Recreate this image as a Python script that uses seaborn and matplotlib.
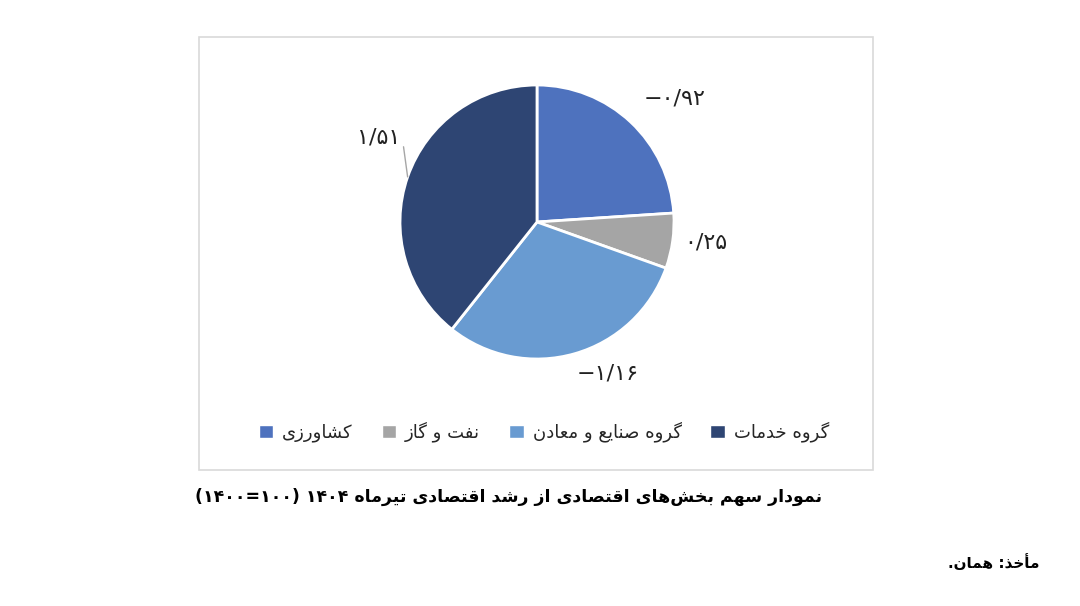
import numpy as np
import matplotlib
matplotlib.use("Agg")
import matplotlib.pyplot as plt
import seaborn as sns
from matplotlib.patches import Rectangle

# Data (share of each sector in growth, Tir 1404)
sectors = ["کشاورزی", "نفت و گاز", "گروه صنایع و معادن", "گروه خدمات"]
values = [-0.92, 0.25, -1.16, 1.51]
value_labels = ["\u2212۰/۹۲", "۰/۲۵", "\u2212۱/۱۶", "۱/۵۱"]
colors = ["#4E72BE", "#A5A5A5", "#699BD1", "#2E4573"]

caption = "نمودار سهم بخش‌های اقتصادی از رشد اقتصادی تیرماه"
caption_num = "(۱۴۰۰=۱۰۰) ۱۴۰۴ "
source = "مأخذ: همان."

# matplotlib has no Arabic shaping, so do a small one by hand:
# pick the presentation form of each letter and reverse for RTL.
FORMS = {
    "ا": ("\uFE8D", "\uFE8E", None, None),
    "أ": ("\uFE83", "\uFE84", None, None),
    "ب": ("\uFE8F", "\uFE90", "\uFE91", "\uFE92"),
    "ت": ("\uFE95", "\uFE96", "\uFE97", "\uFE98"),
    "خ": ("\uFEA5", "\uFEA6", "\uFEA7", "\uFEA8"),
    "د": ("\uFEA9", "\uFEAA", None, None),
    "ذ": ("\uFEAB", "\uFEAC", None, None),
    "ر": ("\uFEAD", "\uFEAE", None, None),
    "ز": ("\uFEAF", "\uFEB0", None, None),
    "س": ("\uFEB1", "\uFEB2", "\uFEB3", "\uFEB4"),
    "ش": ("\uFEB5", "\uFEB6", "\uFEB7", "\uFEB8"),
    "ص": ("\uFEB9", "\uFEBA", "\uFEBB", "\uFEBC"),
    "ع": ("\uFEC9", "\uFECA", "\uFECB", "\uFECC"),
    "ف": ("\uFED1", "\uFED2", "\uFED3", "\uFED4"),
    "ق": ("\uFED5", "\uFED6", "\uFED7", "\uFED8"),
    "م": ("\uFEE1", "\uFEE2", "\uFEE3", "\uFEE4"),
    "ن": ("\uFEE5", "\uFEE6", "\uFEE7", "\uFEE8"),
    "ه": ("\uFEE9", "\uFEEA", "\uFEEB", "\uFEEC"),
    "و": ("\uFEED", "\uFEEE", None, None),
    "ی": ("\uFBFC", "\uFBFD", "\uFBFE", "\uFBFF"),
    "ک": ("\uFB8E", "\uFB8F", "\uFB90", "\uFB91"),
    "گ": ("\uFB92", "\uFB93", "\uFB94", "\uFB95"),
}


def fa(text):
    out = []
    for i, c in enumerate(text):
        if c not in FORMS:
            out.append(c)
            continue
        prev = text[i - 1] if i > 0 else None
        nxt = text[i + 1] if i + 1 < len(text) else None
        join_prev = prev in FORMS and FORMS[prev][2] is not None
        join_next = FORMS[c][2] is not None and nxt in FORMS
        iso, fin, ini, med = FORMS[c]
        if join_prev and join_next:
            out.append(med)
        elif join_prev:
            out.append(fin)
        elif join_next:
            out.append(ini)
        else:
            out.append(iso)
    return "".join(out).replace("\u200c", "")[::-1]


sns.set_theme(style="white")
plt.rcParams["font.family"] = ["DejaVu Sans"]
palette = sns.color_palette(colors)

W, H = 1080, 606
fig = plt.figure(figsize=(W / 100, H / 100), dpi=100)
fig.patch.set_facecolor("white")

# chart frame
fig.patches.append(Rectangle((199 / W, 1 - 470 / H), 674 / W, 433 / H,
                             transform=fig.transFigure, fill=False,
                             edgecolor="#D9D9D9", linewidth=1.2))

# pie axes: centre (537, 222), radius 137 px
R = 137
half = 200
ax = fig.add_axes([(537 - half) / W, 1 - (222 + half) / H, 2 * half / W, 2 * half / H])

wedges, _ = ax.pie(np.abs(values), colors=palette, startangle=90, counterclock=False,
                   radius=1, wedgeprops=dict(edgecolor="white", linewidth=2))
lim = half / R
ax.set_xlim(-lim, lim)
ax.set_ylim(-lim, lim)
ax.axis("off")

# label distance and angle shift (deg) from each wedge's middle
label_dist = [1.35, 1.24, 1.22, 1.31]
label_shift = [-5, 1, 9, -9]
for w, lab, d, s in zip(wedges, value_labels, label_dist, label_shift):
    ang = np.deg2rad((w.theta1 + w.theta2) / 2 + s)
    x, y = d * np.cos(ang), d * np.sin(ang)
    ax.text(x, y, lab, ha="center", va="center", fontsize=16, color="#222222")

# leader line for the services label
w = wedges[3]
ang = np.deg2rad((w.theta1 + w.theta2) / 2)
x0, y0 = np.cos(ang), np.sin(ang)
ax.plot([x0, x0 - 0.03], [y0, y0 + 0.22], color="#A6A6A6", linewidth=1)

handles = [Rectangle((0, 0), 1, 1, facecolor=c) for c in palette]
fig.legend(handles, [fa(s) for s in sectors], loc="center",
           bbox_to_anchor=(544 / W, 1 - 432 / H), ncol=4, frameon=False,
           fontsize=13, handlelength=0.8, handleheight=0.8,
           handletextpad=0.5, columnspacing=1.6)

fig.text(822 / W, 1 - 497 / H, caption_num + fa(caption), ha="right", va="center",
         fontsize=12.5, fontweight="bold", color="black")
fig.text(1040 / W, 1 - 563 / H, fa(source), ha="right", va="center",
         fontsize=11, fontweight="bold", color="black")

fig.savefig("out.png", dpi=100, facecolor="white")
